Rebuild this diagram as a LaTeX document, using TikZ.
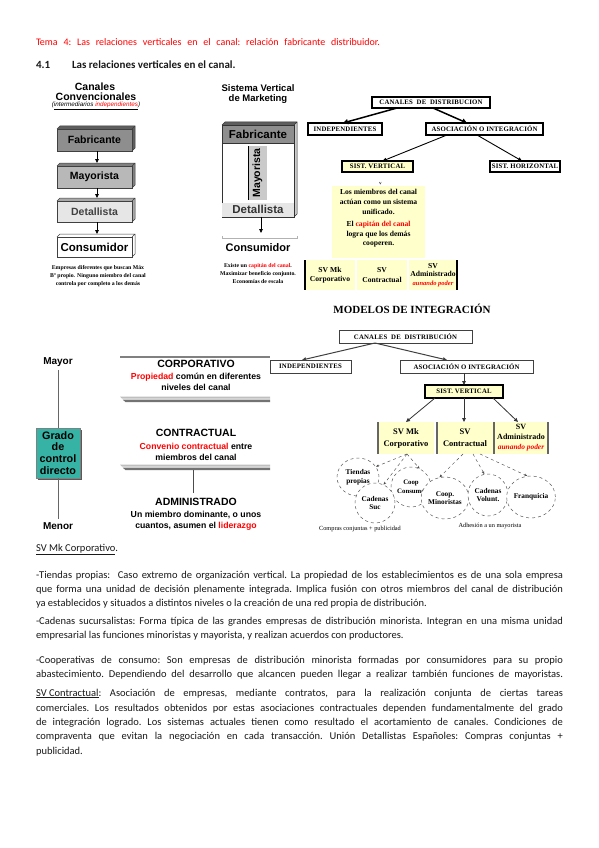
\documentclass[tikz,border=0pt]{standalone}
\usepackage{fontspec}
\setmainfont{Carlito}
\newfontfamily\arialf{Liberation Sans}
\newfontfamily\tnrf{Liberation Serif}
\usetikzlibrary{arrows.meta,shapes.geometric,shadows}
\definecolor{titred}{HTML}{FF0000}
\definecolor{lyel}{HTML}{FFFFCC}
\definecolor{gfab}{HTML}{8E8E8E}
\definecolor{gfabd}{HTML}{5E5E5E}
\definecolor{gmay}{HTML}{B8B8B8}
\definecolor{gmayd}{HTML}{808080}
\definecolor{gdet}{HTML}{E6E6E6}
\definecolor{gdetd}{HTML}{A8A8A8}
\definecolor{tealc}{HTML}{36B3A4}
\tikzset{
 lbl/.style={inner sep=0pt, outer sep=0pt},
 ar/.style={lbl, font=\arialf\bfseries},
 tm/.style={lbl, font=\tnrf},
 body/.style={lbl, anchor=base west, font=\frenchspacing\fontsize{10.5}{12}\selectfont, text=black!90},
 tri/.style={-{Triangle[length=4pt,width=3.6pt]}},
 rbox/.style={draw, inner sep=0pt, outer sep=0pt, anchor=north west},
 spaced/.style={font={\tnrf\bfseries\fontsize{6.8}{7}\selectfont\addfontfeature{LetterSpace=2.5}}},
 circ/.style={ellipse, draw=black!65, dashed, line width=0.5, fill=white, inner sep=0pt, align=center, font={\tnrf\bfseries\fontsize{7.3}{8.7}\selectfont}},
 dar/.style={black!70, dashed, line width=0.45, -{Stealth[length=3pt,width=2.5pt]}},
}
\newcommand\cubebox[8]{%
  \fill[#7] (#2,#3) -- (#2+3,#3-3) -- (#4+3,#3-3) -- (#4+3,#5-3) -- (#4,#5) -- (#4,#3) -- cycle;
  \draw[black!75, line width=0.5] (#2,#3) -- (#2+3,#3-3) -- (#4+3,#3-3) -- (#4+3,#5-3) -- (#4,#5) (#4,#3) -- (#4+3,#3-3);
  \node[ar, draw=black!75, line width=0.5, fill=#6, minimum width=#4-#2, minimum height=#5-#3, anchor=north west] (#1) at (#2,#3) {#8};
}
\begin{document}
\begin{tikzpicture}[x=1pt,y=-1pt]
\useasboundingbox (0,0) rectangle (599,848);
\fill[white] (0,0) rectangle (599,848);

% ---------- header ----------
\node[body, text=titred, font=\frenchspacing\fontsize{10}{12}\selectfont] (tema) at (36,46) {\makebox[344pt][s]{Tema 4: Las relaciones verticales en el canal: relación fabricante distribuidor.}};
\node[body, font=\bfseries\fontsize{11}{12}\selectfont] (num) at (36,69) {4.1};
\node[body, font=\bfseries\fontsize{11}{12}\selectfont] (sect) at (72,69) {Las relaciones verticales en el canal.};

% ---------- diagram 1 : canales convencionales ----------
\node[ar, font=\arialf\bfseries\fontsize{10.5}{11}\selectfont] (cc1) at (95,87) {Canales};
\node[ar, font=\arialf\bfseries\fontsize{10.5}{11}\selectfont] (cc2) at (96,97) {Convencionales};
\node[lbl, font=\arialf\itshape\fontsize{6.3}{7}\selectfont] (cc3) at (96,106) {(\underline{intermediarios \textcolor{red}{independientes}})};
\cubebox{fab}{57}{129}{132}{151}{gfab}{gfabd}{\fontsize{10.5}{12}\selectfont Fabricante}
\cubebox{may}{57}{166}{132}{188}{gmay}{gmayd}{\fontsize{10.5}{12}\selectfont Mayorista}
\cubebox{det}{57}{201}{132}{222}{gdet}{gdetd}{\fontsize{10.5}{12}\selectfont\color{black!75}Detallista}
\cubebox{cons}{57}{237}{132}{257}{white}{white}{\fontsize{11.5}{13}\selectfont Consumidor}
\draw[tri, line width=0.8] ([xshift=2.5pt]fab.south) -- ([xshift=2.5pt,yshift=3pt]may.north);
\draw[tri, line width=0.8] ([xshift=2.5pt]may.south) -- ([xshift=2.5pt,yshift=3pt]det.north);
\draw[tri, line width=0.8] ([xshift=2.5pt]det.south) -- ([xshift=2.5pt,yshift=3pt]cons.north);
\node[tm, align=center, font=\tnrf\bfseries\fontsize{5.8}{8}\selectfont] (cccap) at (98,276) {Empresas diferentes que buscan Máx\\Bº propio. Ninguno miembro del canal\\controla por completo a los demás};

% ---------- diagram 2 : sistema vertical de marketing ----------
\node[ar, align=center, font=\arialf\bfseries\fontsize{9.5}{10}\selectfont] (svt) at (258,94) {Sistema Vertical\\de Marketing};
\fill[black!20] (294,125) -- (297,122) -- (297,214) -- (294,217) -- cycle;
\fill[gfabd] (222,125) -- (225,122) -- (297,122) -- (294,125) -- cycle;
\draw[black!80, line width=0.5] (222,125) -- (225,122) -- (297,122) -- (297,214) -- (294,217) (294,125) -- (297,122);
\node[rbox, draw=black!80, line width=0.5, fill=white, minimum width=72, minimum height=92] (svbox) at (222,125) {};
\node[ar, rbox, draw=black!80, line width=0.5, fill=gfab, minimum width=72, minimum height=18, font=\arialf\bfseries\fontsize{11.5}{12}\selectfont] (svfab) at (222,125) {Fabricante};
\node[ar, fill=gmay!75, minimum width=54, minimum height=19, rotate=90, font=\arialf\bfseries\fontsize{10.5}{12}\selectfont] (svmay) at (257.5,173) {Mayorista};
\draw[black, line width=0.9] (248,146) -- (248,200);
\node[ar, fill=gdet, minimum width=71.5, minimum height=14, anchor=south west, font=\arialf\bfseries\fontsize{11.5}{12}\selectfont] (svdet) at (222.25,216.75) {\color{black!80}Detallista};
\coordinate (svarr) at (261,233);
\draw[tri, line width=0.8] (svdet.south -| svarr) -- (svarr);
\draw[black!30, line width=0.6] (222,236) -- (222,238) -- (297,238) -- (297,236);
\node[ar, font=\arialf\bfseries\fontsize{11}{12}\selectfont] (svcons) at (258,248) {Consumidor};
\node[tm, align=center, font=\tnrf\bfseries\fontsize{5.8}{7.7}\selectfont] (svcap) at (258,273.5) {Existe un \textcolor{red}{capitán del canal}.\\Maximizar beneficio conjunto.\\Economías de escala};

% ---------- diagram 3 : canales de distribucion ----------
\node[tm, rbox, line width=1.3, minimum width=118, minimum height=11, spaced] (cd1) at (372,97) {CANALES\ \ DE\ \ DISTRIBUCION};
\node[tm, rbox, line width=1.2, minimum width=74, minimum height=12, spaced] (ind1) at (308,123) {INDEPENDIENTES};
\node[tm, rbox, line width=1.2, minimum width=117, minimum height=12, spaced] (as1) at (426,123) {ASOCIACIÓN O INTEGRACIÓN};
\draw[line width=1.5, -{Triangle[length=5pt,width=5pt]}] ([xshift=-34pt]cd1.south) -- ([xshift=-2pt]ind1.north);
\draw[line width=1.5, -{Triangle[length=5pt,width=5pt]}] ([xshift=2pt]cd1.south) -- ([xshift=-17.5pt]as1.north);
\node[tm, rbox, line width=1.5, fill=lyel, minimum width=71, minimum height=11, spaced] (sv3) at (342,161) {SIST. VERTICAL};
\node[tm, rbox, line width=1.1, minimum width=70, minimum height=11, spaced] (sh3) at (490,161) {SIST. HORIZONTAL};
\draw[line width=0.9, -{Triangle[length=4pt,width=3.5pt]}] ([xshift=-37.5pt]as1.south) -- ([xshift=5pt]sv3.north);
\draw[line width=0.9, -{Triangle[length=4pt,width=3.5pt]}] ([xshift=-7.5pt]as1.south) -- ([xshift=-3pt]sh3.north);
\node[tm, rbox, draw=none, fill=lyel, minimum width=93, minimum height=72] (yb) at (332,186) {};
\draw[black!70, line width=0.4] (379.3,182) -- (380.3,184) -- (381.3,182);
\node[tm, align=center, font=\tnrf\bfseries\fontsize{7.6}{9.6}\selectfont] (ybt) at (378.5,218.5) {Los miembros del canal\\actúan como un sistema\\unificado.\\[3pt]El \textcolor{red}{capitán del canal}\\logra que los demás\\cooperen.};
\node[tm, rbox, draw=none, fill=lyel, minimum width=50, minimum height=30, align=center, font=\tnrf\bfseries\fontsize{7.6}{9.5}\selectfont] (b1) at (305,260) {SV Mk\\Corporativo};
\node[tm, rbox, draw=none, fill=lyel, minimum width=50, minimum height=30, align=center, font=\tnrf\bfseries\fontsize{7.6}{9.5}\selectfont] (b2) at (357,260) {SV\\Contractual};
\node[tm, rbox, draw=none, fill=lyel, minimum width=48, minimum height=30, align=center, font=\tnrf\bfseries\fontsize{7.6}{8.8}\selectfont] (b3) at (409,260) {SV\\Administrado\\{\itshape\color{red}\fontsize{6.5}{8}\selectfont aunando poder}};
\draw[line width=1.1] (b1.north west) -- (b1.south west);
\draw[line width=1.1] (b3.north east) -- (b3.south east);

% ---------- diagram 4 : grado de control ----------
\node[ar, font=\arialf\bfseries\fontsize{10}{11}\selectfont] (mayor) at (58,362) {Mayor};
\node[ar, rbox, draw=black!50, line width=0.4, fill=tealc, drop shadow={shadow xshift=1.6pt, shadow yshift=-1.6pt, fill=black!65, opacity=1}, minimum width=44, minimum height=50, align=center, font=\arialf\bfseries\fontsize{10.8}{11.8}\selectfont] (grado) at (36,428) {Grado\\de\\control\\directo};
\node[ar, font=\arialf\bfseries\fontsize{10}{11}\selectfont] (menor) at (58,526) {Menor};
\draw[black!60, line width=0.8] ([yshift=-4pt]mayor.south) -- (grado.north);
\draw[black!60, line width=0.8] (grado.south) -- ([yshift=4pt]menor.north);

\node[lbl, anchor=north west, minimum width=150, minimum height=45] (corp) at (120,357) {};
\draw[black!50, line width=1.6] (corp.north west) -- (corp.north east);
\fill[black!25] (120,396.5) -- (270,396.5) -- (270,398.5) -- (122,398.5) -- cycle;
\fill[black!55] (122.5,399.5) -- (270,399.5) -- (270,402) -- (125.5,402) -- cycle;
\node[ar, font=\arialf\bfseries\fontsize{10.5}{11}\selectfont] (corpT) at (196,364) {CORPORATIVO};
\node[ar, align=center, font=\arialf\bfseries\fontsize{8.7}{11}\selectfont] (corpD) at (196,381.5) {\textcolor{red}{Propiedad} común en diferentes\\niveles del canal};

\node[lbl, anchor=north west, minimum width=150, minimum height=48] (contr) at (120,422) {};
\fill[black!25] (120,464.5) -- (270,464.5) -- (270,466.5) -- (122,466.5) -- cycle;
\fill[black!55] (122.5,467.5) -- (270,467.5) -- (270,470) -- (125.5,470) -- cycle;
\node[ar, font=\arialf\bfseries\fontsize{10.5}{11}\selectfont] (contrT) at (196,433) {CONTRACTUAL};
\node[ar, align=center, font=\arialf\bfseries\fontsize{8.7}{11}\selectfont] (contrD) at (196,451.5) {\textcolor{red}{Convenio contractual} entre\\miembros del canal};

\node[lbl, anchor=north west, minimum width=150, minimum height=40] (adm) at (120,493) {};
\draw[black!70, line width=0.6] ([xshift=-2pt]contr.south) -- ([xshift=-2pt]adm.north);
\node[ar, font=\arialf\bfseries\fontsize{10.5}{11}\selectfont] (admT) at (196,502) {ADMINISTRADO};
\node[ar, align=center, font=\arialf\bfseries\fontsize{8.7}{11}\selectfont] (admD) at (196,520.5) {Un miembro dominante, o unos\\cuantos, asumen el \textcolor{red}{liderazgo}};

% ---------- diagram 5 : modelos de integracion ----------
\node[tm, font=\tnrf\bfseries\fontsize{11}{12}\selectfont] (modelos) at (412,309) {MODELOS DE INTEGRACIÓN};
\node[tm, rbox, draw=black!75, line width=1, minimum width=133, minimum height=13, spaced] (cd2) at (339,330) {CANALES\ \ DE\ \ DISTRIBUCIÓN};
\node[tm, rbox, draw=black!75, line width=1, minimum width=81, minimum height=13, spaced] (ind2) at (270,360) {INDEPENDIENTES};
\node[tm, rbox, draw=black!75, line width=1, minimum width=133, minimum height=13, spaced] (as2) at (400,360) {ASOCIACIÓN O INTEGRACIÓN};
\draw[tri, black!75, line width=1] ([xshift=-30.5pt]cd2.south) -- ([xshift=-8.5pt]ind2.north);
\draw[tri, black!75, line width=1] ([xshift=-30.5pt]cd2.south) -- ([xshift=-19.5pt]as2.north);
\node[tm, rbox, line width=1.3, fill=lyel, minimum width=78, minimum height=13, spaced] (sv5) at (425,385) {SIST. VERTICAL};
\draw[tri, black!80, line width=0.8] (sv5.north |- as2.south) -- (sv5.north);
\node[tm, rbox, draw=none, fill=lyel, minimum width=56, minimum height=32, align=center, font=\tnrf\bfseries\fontsize{8.5}{12}\selectfont] (c1) at (378,422) {SV Mk\\Corporativo};
\node[tm, rbox, draw=none, fill=lyel, minimum width=56, minimum height=32, align=center, font=\tnrf\bfseries\fontsize{8.5}{12}\selectfont] (c2) at (437,422) {SV\\Contractual};
\node[tm, rbox, draw=none, fill=lyel, minimum width=54, minimum height=32, align=center, font=\tnrf\bfseries\fontsize{8}{10}\selectfont] (c3) at (494,422) {SV\\Administrado\\{\itshape\color{red}\fontsize{7.4}{9}\selectfont aunando poder}};
\draw[black!60, line width=1.1] (c1.north west) -- (c1.south west);
\draw[black!60, line width=1.1] (c2.north west) -- (c2.south west);
\draw[black!60, line width=1.1] (c3.north west) -- (c3.south west);
\draw[black!60, line width=1.1] (c3.north east) -- (c3.south east);
\draw[tri, black!80, line width=0.8] ([xshift=-29pt]sv5.south) -- (c1.north);
\draw[tri, black!80, line width=0.8] (sv5.south) -- ([xshift=-1pt]c2.north);
\draw[tri, black!80, line width=0.8] ([xshift=29pt]sv5.south) -- ([xshift=-3pt]c3.north);

\node[circ, minimum width=42, minimum height=38] (e1) at (358,477) {Tiendas\\propias};
\node[circ, minimum width=40, minimum height=40, font={\tnrf\bfseries\fontsize{6.8}{8.5}\selectfont}] (e2) at (411,487) {Coop\\Consumo};
\node[circ, minimum width=40, minimum height=40] (e3) at (375,503) {Cadenas\\Suc};
\node[circ, minimum width=42, minimum height=42] (e4) at (445,498) {Coop.\\Minoristas};
\node[circ, minimum width=40, minimum height=42] (e5) at (488,495) {Cadenas\\Volunt.};
\node[circ, minimum width=46, minimum height=42] (e6) at (531,497) {Franquicia};
\draw[dar] ([xshift=1pt]c1.south) -- (e1.30);
\draw[dar] ([xshift=1pt]c1.south) -- (e2.65);
\draw[dar] ([xshift=1pt]c1.south) -- (e3.65);
\draw[dar] ([xshift=-2pt]c2.south) -- (e4.105);
\draw[dar] ([xshift=8pt]c2.south) -- (e5.100);
\draw[dar] ([xshift=15pt]c2.south) -- (e6.100);
\node[tm, font=\tnrf\fontsize{6.3}{7}\selectfont] (compras) at (360,529) {Compras conjuntas + publicidad};
\node[tm, font=\tnrf\fontsize{6.3}{7}\selectfont] (adhes) at (490,526) {Adhesión a un mayorista};

% ---------- body text ----------
\node[body] (h1) at (36,551) {\underline{SV Mk Corporativo}.};
\node[body] (p1a) at (36,578) {\makebox[527pt][s]{-Tiendas propias:\ \ Caso extremo de organización vertical. La propiedad de los establecimientos es de una sola empresa}};
\node[body] (p1b) at (36,592) {\makebox[527pt][s]{que forma una unidad de decisión plenamente integrada. Implica fusión con otros miembros del canal de distribución}};
\node[body] (p1c) at (36,606) {ya establecidos y situados a distintos niveles o la creación de una red propia de distribución.};
\node[body] (p2a) at (36,624) {\makebox[527pt][s]{-Cadenas sucursalistas: Forma típica de las grandes empresas de distribución minorista. Integran en una misma unidad}};
\node[body] (p2b) at (36,638) {empresarial las funciones minoristas y mayorista, y realizan acuerdos con productores.};
\node[body] (p3a) at (36,663) {\makebox[527pt][s]{-Cooperativas de consumo: Son empresas de distribución minorista formadas por consumidores para su propio}};
\node[body] (p3b) at (36,677) {\makebox[527pt][s]{abastecimiento. Dependiendo del desarrollo que alcancen pueden llegar a realizar también funciones de mayoristas.}};
\node[body] (p4a) at (36,696) {\makebox[527pt][s]{\underline{SV Contractual}: Asociación de empresas, mediante contratos, para la realización conjunta de ciertas tareas}};
\node[body] (p4b) at (36,711) {\makebox[527pt][s]{comerciales. Los resultados obtenidos por estas asociaciones contractuales dependen fundamentalmente del grado}};
\node[body] (p4c) at (36,725) {\makebox[527pt][s]{de integración logrado. Los sistemas actuales tienen como resultado el acortamiento de canales. Condiciones de}};
\node[body] (p4d) at (36,739) {\makebox[527pt][s]{compraventa que evitan la negociación en cada transacción. Unión Detallistas Españoles: Compras conjuntas +}};
\node[body] (p4e) at (36,754) {publicidad.};
\end{tikzpicture}
\end{document}
